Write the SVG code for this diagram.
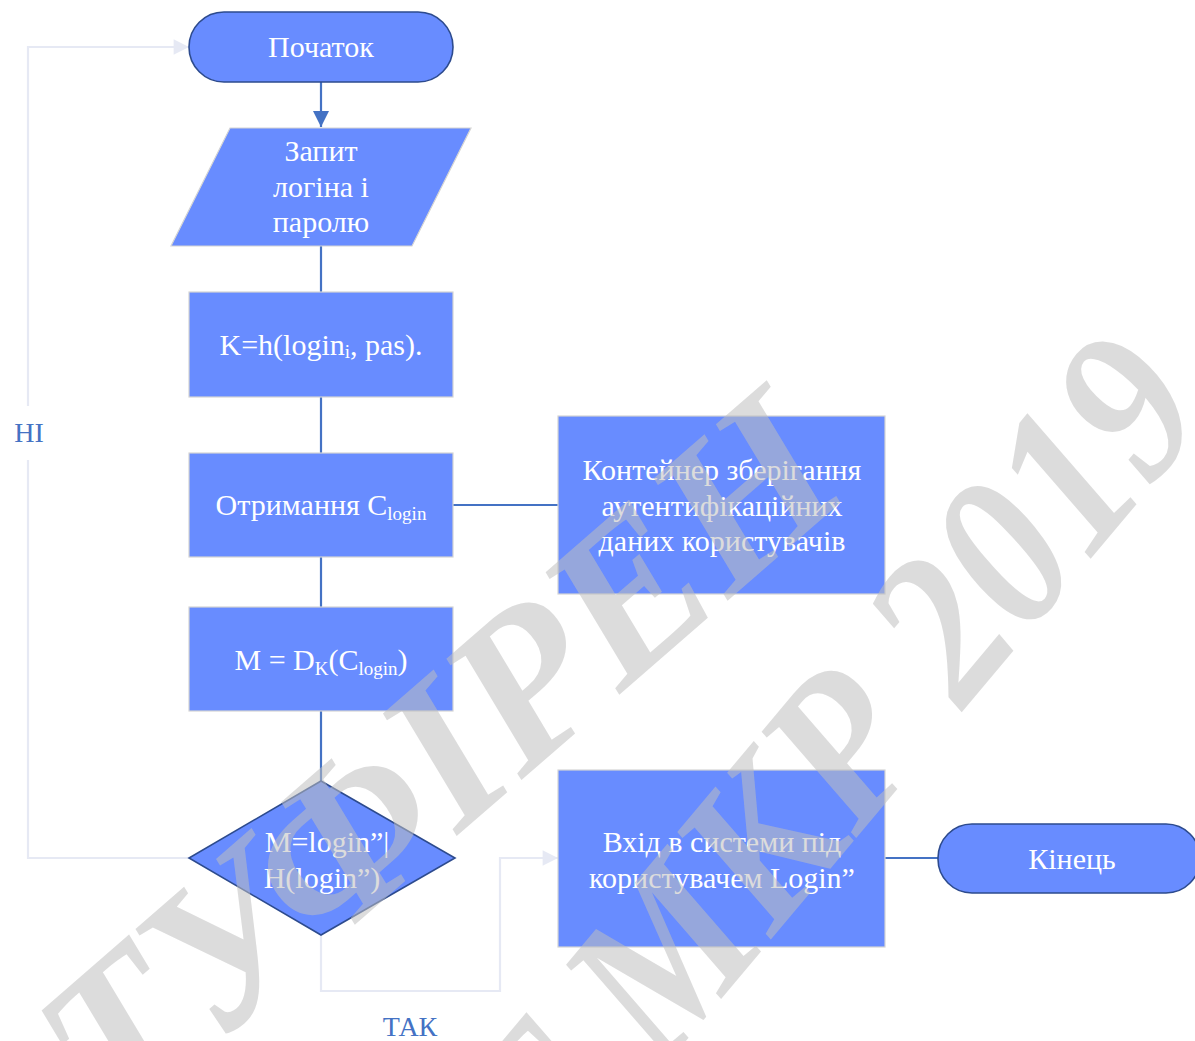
<svg xmlns="http://www.w3.org/2000/svg" width="1195" height="1041" viewBox="0 0 1195 1041">
  <style>
    .node { fill: #688cff; stroke: #d4d4d4; stroke-width: 1.2; }
    .term { fill: #688cff; stroke: #2d4b8e; stroke-width: 1.6; }
    .lbl { font-family: "Liberation Serif", "Times New Roman", serif; font-size: 30px; fill: #ffffff; text-anchor: middle; }
    .sub { font-size: 19px; }
    .edge { fill: none; stroke: #4472c4; stroke-width: 2.2; }
    .pale { fill: none; stroke: #e6e9f4; stroke-width: 2.2; }
    .elbl { font-family: "Liberation Serif", "Times New Roman", serif; font-size: 28px; fill: #4472c4; text-anchor: middle; }
    .wm { font-family: "Liberation Serif", "Times New Roman", serif; font-weight: bold; font-style: italic; font-size: 215px; fill: #bebebe; fill-opacity: 0.54; text-anchor: end; }
  </style>
  <defs>
    <marker id="headBlue" viewBox="0 0 10 10" refX="10" refY="5" markerWidth="7.5" markerHeight="7.5" markerUnits="strokeWidth" orient="auto">
      <path d="M0,0 L10,5 L0,10 Z" fill="#4472c4"/>
    </marker>
    <marker id="headPale" viewBox="0 0 10 10" refX="10" refY="5" markerWidth="9" markerHeight="7" markerUnits="strokeWidth" orient="auto">
      <path d="M0,0 L10,5 L0,10 Z" fill="#e6e9f4"/>
    </marker>
  </defs>

  <rect width="1195" height="1041" fill="#ffffff"/>

  <!-- connectors -->
  <g id="connectors">
    <line class="edge" x1="321" y1="82" x2="321" y2="127" marker-end="url(#headBlue)"/>
    <line class="edge" x1="321" y1="246" x2="321" y2="292"/>
    <line class="edge" x1="321" y1="397" x2="321" y2="453"/>
    <line class="edge" x1="453" y1="505" x2="558" y2="505"/>
    <line class="edge" x1="321" y1="557" x2="321" y2="607"/>
    <line class="edge" x1="321" y1="711" x2="321" y2="781"/>
    <line class="edge" x1="885" y1="858" x2="938" y2="858"/>
    <!-- "no" branch back to the start -->
    <path class="pale" d="M189,858 H28 V460 M28,406 V47 H189" marker-end="url(#headPale)"/>
    <text class="elbl" x="29" y="442">НІ</text>
    <!-- "yes" branch to the login step -->
    <path class="pale" d="M321,935 V991 H500 V858 H558" marker-end="url(#headPale)"/>
    <text class="elbl" x="410" y="1036">ТАК</text>
  </g>

  <!-- nodes -->
  <g id="start">
    <rect class="term" x="189" y="12" width="264" height="70" rx="35" ry="35"/>
    <text class="lbl" x="321" y="57">Початок</text>
  </g>

  <g id="input">
    <polygon class="node" points="230,128 471,128 412,246 171,246"/>
    <text class="lbl" x="321" y="161">Запит</text>
    <text class="lbl" x="321" y="197">логіна і</text>
    <text class="lbl" x="321" y="232">паролю</text>
  </g>

  <g id="hash">
    <rect class="node" x="189" y="292" width="264" height="105"/>
    <text class="lbl" x="321" y="355">K=h(login<tspan class="sub" dy="3">i</tspan><tspan dy="-3">, pas).</tspan></text>
  </g>

  <g id="fetch">
    <rect class="node" x="189" y="453" width="264" height="104"/>
    <text class="lbl" x="321" y="515">Отримання C<tspan class="sub" dy="5">login</tspan></text>
  </g>

  <g id="storage">
    <rect class="node" x="558" y="416" width="327" height="178"/>
    <text class="lbl" x="722" y="480">Контейнер зберігання</text>
    <text class="lbl" x="722" y="516">аутентифікаційних</text>
    <text class="lbl" x="722" y="551">даних користувачів</text>
  </g>

  <g id="decrypt">
    <rect class="node" x="189" y="607" width="264" height="104"/>
    <text class="lbl" x="321" y="670">M = D<tspan class="sub" dy="5">K</tspan><tspan dy="-5">(C</tspan><tspan class="sub" dy="5">login</tspan><tspan dy="-5">)</tspan></text>
  </g>

  <g id="check">
    <polygon class="term" points="321,781 455,858 321,935 189,858"/>
    <text class="lbl" x="327" y="852">M=login”|</text>
    <text class="lbl" x="322" y="888">H(login”)</text>
  </g>

  <g id="login">
    <rect class="node" x="558" y="770" width="327" height="177"/>
    <text class="lbl" x="722" y="852">Вхід в системи під</text>
    <text class="lbl" x="722" y="888">користувачем Login”</text>
  </g>

  <g id="end">
    <rect class="term" x="938" y="824" width="262" height="69" rx="34" ry="34"/>
    <text class="lbl" x="1072" y="869">Кінець</text>
  </g>

  <!-- watermark -->
  <g id="watermark">
    <text class="wm" transform="translate(855 490) rotate(-41)">ТУФІРЕН</text>
    <text class="wm" transform="translate(1212 414) rotate(-50) scale(0.9 1)">Т МКР 2019</text>
  </g>
</svg>
